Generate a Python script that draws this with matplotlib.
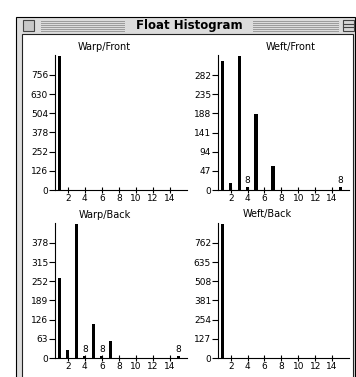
import numpy as np
import matplotlib
matplotlib.use("Agg")
import matplotlib.pyplot as plt
from matplotlib.patches import Rectangle

# float lengths 1..15 and counts per panel
lengths = list(range(1, 16))
warp_front = [882, 0, 0, 0, 0, 0, 0, 0, 0, 0, 0, 0, 0, 0, 0]
weft_front = [316, 16, 330, 8, 187, 0, 58, 0, 0, 0, 0, 0, 0, 0, 8]
warp_back = [261, 25, 441, 8, 110, 8, 55, 0, 0, 0, 0, 0, 0, 0, 8]
weft_back = [889, 0, 0, 0, 0, 0, 0, 0, 0, 0, 0, 0, 0, 0, 0]
titles = ["Warp/Front", "Weft/Front", "Warp/Back", "Weft/Back"]
x_ticks = [2, 4, 6, 8, 10, 12, 14]

W, H = 356, 377
fig = plt.figure(figsize=(W / 100, H / 100), dpi=100)
fig.patch.set_facecolor("white")

# window chrome, drawn in pixel coordinates
bg = fig.add_axes([0, 0, 1, 1], zorder=0)
bg.set_xlim(0, W)
bg.set_ylim(H, 0)
bg.axis("off")
bg.add_patch(Rectangle((16, 17), 339, 380, fc="#dcdcdc", ec="black", lw=0.8))
bg.add_patch(Rectangle((22, 34), 331, 380, fc="white", ec="#222222", lw=0.8))
for yy in range(21, 32, 2):
    bg.plot([41, 124], [yy, yy], color="#9a9a9a", lw=0.7)
    bg.plot([253, 338], [yy, yy], color="#9a9a9a", lw=0.7)
bg.add_patch(Rectangle((23, 20), 11, 11, fc="#c8c8c8", ec="#444444", lw=0.8))
bg.add_patch(Rectangle((343, 20), 11, 11, fc="#d8d8d8", ec="#444444", lw=0.8))
bg.plot([343, 354], [24, 24], color="#444444", lw=0.8)
bg.plot([343, 354], [27, 27], color="#444444", lw=0.8)
bg.text(189, 25.5, "Float Histogram", ha="center", va="center",
        fontsize=8.5, fontweight="bold", color="black")

# panel boxes in pixels: (left, right, top, bottom) of the axis lines
boxes = [(55, 187, 55, 190), (218, 349, 55, 190),
         (55, 187, 223, 358), (218, 349, 223, 358)]
title_pos = [(104, 47), (291, 47), (105, 215), (267, 214)]
series = [warp_front, weft_front, warp_back, weft_back]

for (l, r, t, b), vals, title, (tx, ty) in zip(boxes, series, titles, title_pos):
    ax = fig.add_axes([l / W, 1 - b / H, (r - l) / W, (b - t) / H], zorder=2)
    ax.patch.set_alpha(0)
    vmax = max(vals)
    step = vmax // 7
    ax.bar(lengths, vals, width=0.38, color="black")
    for x, v in zip(lengths, vals):
        if 0 < v < 0.03 * vmax:
            ax.text(x, v + vmax * 0.01, str(v), ha="center", va="bottom",
                    fontsize=6.5)
    ax.set_xlim(0.5, 16)
    ax.set_ylim(0, vmax * 1.005)
    ax.set_yticks([step * k for k in range(7)])
    ax.set_xticks(x_ticks)
    for s in ["top", "right"]:
        ax.spines[s].set_visible(False)
    for s in ["left", "bottom"]:
        ax.spines[s].set_linewidth(0.8)
    ax.tick_params(axis="y", direction="out", length=4, width=0.8,
                   labelsize=6.5, pad=1)
    ax.tick_params(axis="x", direction="inout", length=4, width=0.8,
                   labelsize=6.5, pad=1)
    fig.text(tx / W, 1 - ty / H, title, ha="center", va="center", fontsize=7)

fig.savefig("out.png", dpi=100)
